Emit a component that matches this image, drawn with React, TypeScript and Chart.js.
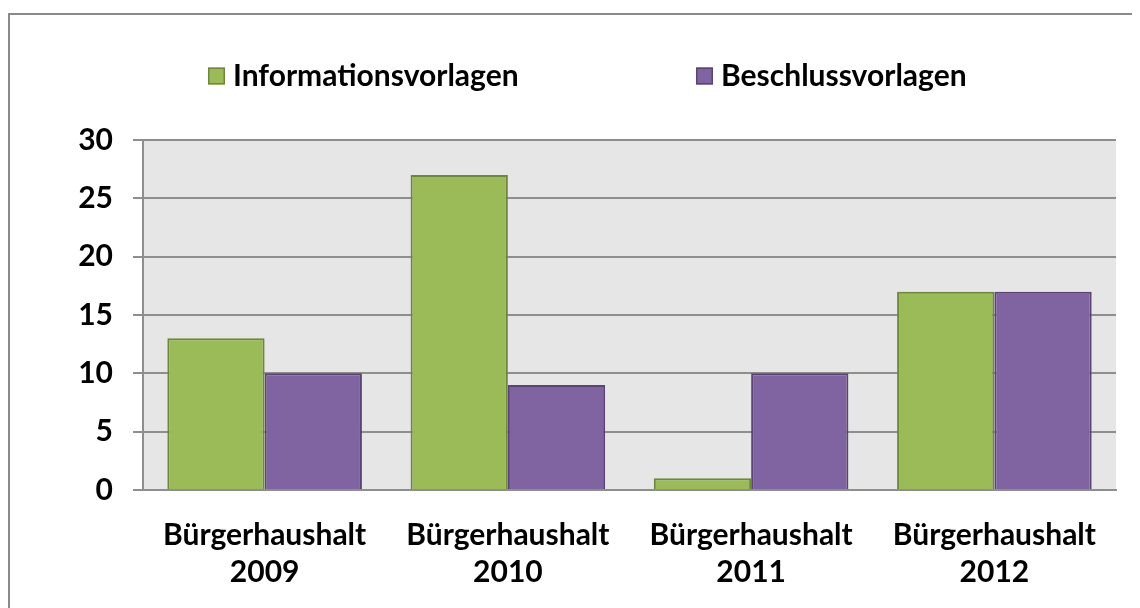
import React, { useEffect, useRef } from "react";
import { Chart, registerables } from "chart.js";

Chart.register(...registerables);

const categories: string[][] = [
  ["Bürgerhaushalt", "2009"],
  ["Bürgerhaushalt", "2010"],
  ["Bürgerhaushalt", "2011"],
  ["Bürgerhaushalt", "2012"],
];
const informationsvorlagen: number[] = [13, 27, 1, 17];
const beschlussvorlagen: number[] = [10, 9, 10, 17];
const seriesLabels: string[] = ["Informationsvorlagen", "Beschlussvorlagen"];
const yMin = 0;
const yMax = 30;
const yStep = 5;

const FONT = "Lato, 'Open Sans', sans-serif";
const FONT_SIZE = 30;
const GRID = "#8e8e8e";

const plotBackground = {
  id: "plotBackground",
  beforeDraw(chart: any) {
    const { ctx, chartArea } = chart;
    ctx.save();
    ctx.fillStyle = "#e6e6e6";
    ctx.fillRect(chartArea.left, chartArea.top, chartArea.right - chartArea.left, chartArea.bottom - chartArea.top);
    ctx.restore();
  },
};

const customLegend = {
  id: "customLegend",
  afterDraw(chart: any) {
    const { ctx } = chart;
    const anchors = [198, 686];
    const box = 17;
    const cy = 61;
    ctx.save();
    chart.data.datasets.forEach((ds: any, i: number) => {
      const x = anchors[i];
      ctx.fillStyle = ds.backgroundColor;
      ctx.fillRect(x, cy - box / 2, box, box);
      ctx.strokeStyle = ds.borderColor;
      ctx.lineWidth = 1.5;
      ctx.strokeRect(x + 0.75, cy - box / 2 + 0.75, box - 1.5, box - 1.5);
      ctx.fillStyle = "#000";
      ctx.font = `bold ${FONT_SIZE}px ${FONT}`;
      ctx.textBaseline = "middle";
      ctx.textAlign = "left";
      ctx.fillText(ds.label, x + box + 8, cy);
    });
    ctx.restore();
  },
};

export default function App() {
  const ref = useRef<HTMLCanvasElement | null>(null);
  useEffect(() => {
    if (!ref.current) return;
    const chart = new Chart(ref.current, {
      type: "bar",
      data: {
        labels: categories,
        datasets: [
          {
            label: seriesLabels[0],
            data: informationsvorlagen,
            backgroundColor: "#9bbb59",
            borderColor: "#6f873d",
            borderWidth: 2,
            categoryPercentage: 0.8,
            barPercentage: 1.0,
          },
          {
            label: seriesLabels[1],
            data: beschlussvorlagen,
            backgroundColor: "#8064a2",
            borderColor: "#5a4474",
            borderWidth: 2,
            categoryPercentage: 0.8,
            barPercentage: 1.0,
          },
        ],
      },
      options: {
        responsive: false,
        animation: false,
        layout: { padding: { left: 50, right: 24, top: 125, bottom: 0 } },
        plugins: {
          legend: { display: false },
          tooltip: { enabled: false },
        },
        scales: {
          x: {
            afterFit: (scale: any) => {
              scale.height = 118;
            },
            grid: { display: false },
            border: { display: true, color: GRID, width: 2 },
            ticks: {
              color: "#000",
              padding: 19,
              font: { family: FONT, size: FONT_SIZE, weight: "bold", lineHeight: "37px" as any },
              maxRotation: 0,
              autoSkip: false,
            },
          },
          y: {
            min: yMin,
            max: yMax,
            afterFit: (scale: any) => {
              scale.width = 83;
            },
            grid: { color: GRID, lineWidth: 2, tickLength: 10, drawTicks: true },
            border: { display: true, color: GRID, width: 2 },
            ticks: {
              stepSize: yStep,
              color: "#000",
              padding: 20,
              font: { family: FONT, size: FONT_SIZE, weight: "bold" },
            },
          },
        },
      },
      plugins: [plotBackground, customLegend],
    });
    return () => chart.destroy();
  }, []);

  return (
    <div style={{ paddingTop: 5 }}>
      <div
        style={{
          borderLeft: "2px solid #8a8a8a",
          borderTop: "2px solid #8a8a8a",
          width: 1130,
          height: 593,
        }}
      >
        <canvas ref={ref} width={1130} height={593} style={{ display: "block", width: 1130, height: 593 }} />
      </div>
    </div>
  );
}
